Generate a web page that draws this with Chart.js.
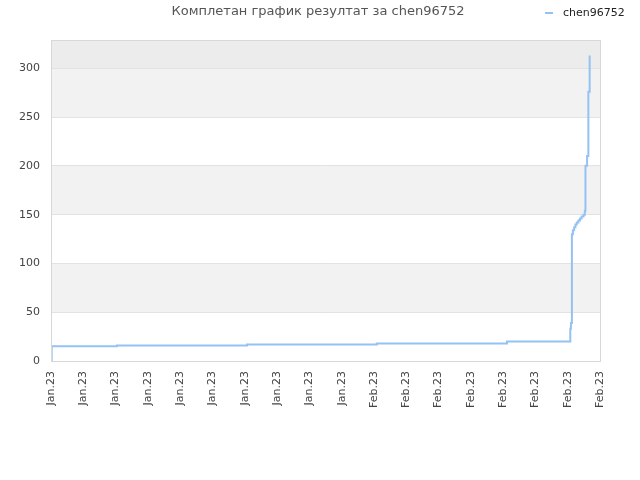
<!DOCTYPE html>
<html>
<head>
<meta charset="utf-8">
<script src="https://cdn.jsdelivr.net/npm/chart.js@4/dist/chart.umd.min.js"></script>
<style>
  html, body { margin: 0; padding: 0; background: #fff; }
  #wrap { width: 640px; height: 480px; }
</style>
</head>
<body>
<div id="wrap"><canvas id="chart" width="640" height="480"></canvas></div>
<script>
// tick labels shown under the x axis (one per step of the x scale)
var tickLabels = ['Jan.23', 'Jan.23', 'Jan.23', 'Jan.23', 'Jan.23', 'Jan.23', 'Jan.23', 'Jan.23', 'Jan.23', 'Jan.23',
    'Feb.23', 'Feb.23', 'Feb.23', 'Feb.23', 'Feb.23', 'Feb.23', 'Feb.23', 'Feb.23'];

// position of each score change, in tick-label units
var changeAt = [0, 0.02, 2.04, 6.07, 10.09, 14.12, 16.08, 16.1, 16.13, 16.16, 16.2, 16.24, 16.28, 16.33,
    16.38, 16.43, 16.49, 16.53, 16.55, 16.6, 16.64, 16.68];
// score after each change
var scores = [0, 15, 16, 17, 18, 20, 33, 39, 130, 134, 137, 140, 142, 144,
    146, 148, 150, 154, 200, 210, 276, 313];

var seriesName = 'chen96752';
var chartTitle = 'Комплетан график резултат за chen96752';

var points = changeAt.map(function (x, i) {
    return { x: x, y: scores[i] };
});

var lineColor = '#94c2f2';

// alternating bands, frame, title and legend
var bandsPlugin = {
    id: 'bands',
    beforeDraw: function (chart) {
        var ctx = chart.ctx;
        var area = chart.chartArea;
        var y = chart.scales.y;
        ctx.save();
        var ticks = y.ticks;
        for (var i = 0; i < ticks.length; i++) {
            var top = i + 1 < ticks.length ? y.getPixelForValue(ticks[i + 1].value) : area.top;
            var bottom = y.getPixelForValue(ticks[i].value);
            if (i + 1 >= ticks.length) {
                ctx.fillStyle = '#ececec';
            } else {
                ctx.fillStyle = i % 2 === 1 ? '#f2f2f2' : '#ffffff';
            }
            ctx.fillRect(area.left, top, area.right - area.left, bottom - top);
        }
        ctx.restore();
    },
    afterDraw: function (chart) {
        var ctx = chart.ctx;
        var area = chart.chartArea;
        ctx.save();
        ctx.strokeStyle = '#d8d8d8';
        ctx.lineWidth = 1;
        ctx.strokeRect(Math.round(area.left) + 0.5, Math.round(area.top) + 0.5,
            Math.round(area.right - area.left), Math.round(area.bottom - area.top));

        ctx.fillStyle = '#555';
        ctx.font = '13px "DejaVu Sans"';
        ctx.textAlign = 'center';
        ctx.textBaseline = 'middle';
        ctx.fillText(chartTitle, 318, 12);

        // legend
        ctx.fillStyle = lineColor;
        ctx.fillRect(545, 12, 8, 2);
        ctx.fillStyle = '#222';
        ctx.font = '11px "DejaVu Sans"';
        ctx.textAlign = 'left';
        ctx.fillText(chart.data.datasets[0].label, 563, 13);
        ctx.restore();
    }
};

var ctx = document.getElementById('chart');

var myChart = new Chart(ctx, {
    type: 'line',
    data: {
        datasets: [{
            label: seriesName,
            data: points,
            borderColor: lineColor,
            backgroundColor: lineColor,
            borderWidth: 2,
            pointRadius: 0,
            stepped: 'before',
            fill: false
        }]
    },
    options: {
        responsive: false,
        animation: false,
        layout: {
            padding: { left: 0, right: 40, top: 40, bottom: 0 }
        },
        plugins: {
            title: { display: false },
            tooltip: { enabled: false },
            legend: { display: false }
        },
        scales: {
            x: {
                type: 'linear',
                min: 0,
                max: tickLabels.length - 1,
                grid: { display: false, drawTicks: false },
                border: { display: false },
                afterFit: function (scale) { scale.height = 119; },
                ticks: {
                    stepSize: 1,
                    autoSkip: false,
                    minRotation: 90,
                    maxRotation: 90,
                    padding: 10,
                    color: '#444',
                    font: { family: 'DejaVu Sans', size: 11 },
                    callback: function (value) {
                        return tickLabels[value];
                    }
                }
            },
            y: {
                min: 0,
                max: 329,
                grid: { color: '#e2e2e2', drawTicks: false },
                border: { display: false },
                afterFit: function (scale) { scale.width = 51; },
                afterBuildTicks: function (scale) {
                    scale.ticks = scale.ticks.filter(function (t) { return t.value % 50 === 0; });
                },
                ticks: {
                    stepSize: 50,
                    padding: 11,
                    color: '#444',
                    font: { family: 'DejaVu Sans', size: 11 }
                }
            }
        }
    },
    plugins: [bandsPlugin]
});
</script>
</body>
</html>
